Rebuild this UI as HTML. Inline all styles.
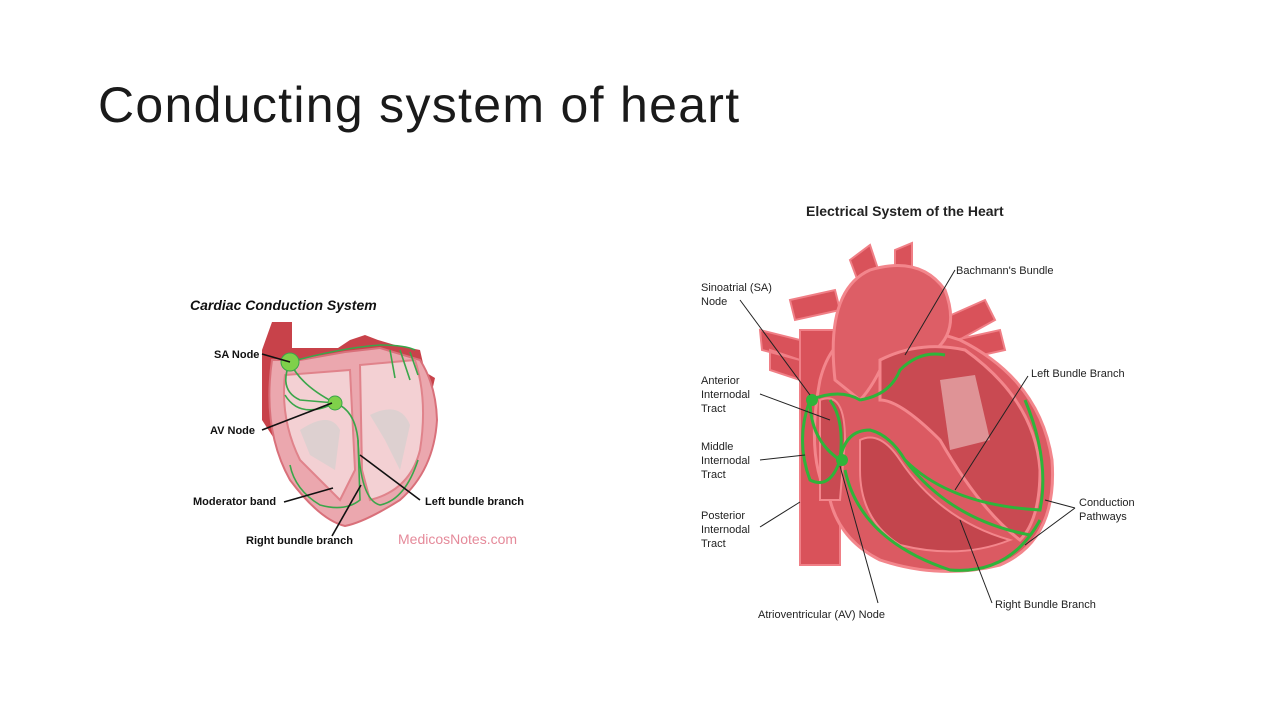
<!DOCTYPE html>
<html><head><meta charset="utf-8"><style>
html,body{margin:0;padding:0;background:#fff;}
body{width:1280px;height:720px;overflow:hidden;position:relative;font-family:"Liberation Sans",sans-serif;}
.t{position:absolute;left:98px;top:76px;font-size:50px;color:#1a1a1a;letter-spacing:1.3px;}
</style></head><body>
<div class="t">Conducting system of heart</div>
<svg width="1280" height="720" style="position:absolute;left:0;top:0" font-family="Liberation Sans, sans-serif">
<text x="190" y="310" font-size="14" font-weight="bold" font-style="italic" fill="#111">Cardiac Conduction System</text>
<path d="M262 350 L272 322 L292 322 L292 348 L338 348 L350 340 L365 335 L378 340 L395 345 L420 350 L425 372 L435 378 L430 400 L300 400 L275 440 L262 420 Z" fill="#c8424a"/>
<path d="M272 360 Q262 430 290 480 Q320 520 345 526 Q365 522 400 500 Q434 470 437 420 Q436 385 420 360 L380 348 L345 352 L300 360 Z" fill="#eba7ae" stroke="#d9707a" stroke-width="2"/>
<path d="M285 375 Q280 420 300 460 L340 500 L355 470 L350 370 Z" fill="#f3d0d3" stroke="#e0838b" stroke-width="2"/>
<path d="M360 365 L415 360 Q428 400 420 450 Q410 490 370 500 L362 470 Z" fill="#f3d0d3" stroke="#e0838b" stroke-width="2"/>
<path d="M300 430 Q330 410 340 430 L335 470 L310 455 Z M370 415 Q400 400 410 425 L400 470 L385 440 Z" fill="#d7d0d0" opacity="0.8"/>
<g fill="none" stroke="#3aa64a" stroke-width="1.6">
<path d="M290 362 Q340 348 380 345 Q405 345 415 350"/>
<path d="M390 350 L395 378 M400 350 L410 380 M410 352 L418 375"/>
<path d="M290 362 Q278 390 300 400 L335 403"/>
<path d="M290 362 Q300 385 335 403"/>
<path d="M335 403 Q355 410 358 440 L360 500 Q345 512 320 505 Q295 490 290 465"/>
<path d="M358 440 Q360 500 380 505 Q405 500 418 460"/>
<path d="M335 403 Q300 420 285 395"/>
</g>
<circle cx="290" cy="362" r="9" fill="#7fd04a" stroke="#3aa64a"/>
<circle cx="335" cy="403" r="7" fill="#7fd04a" stroke="#3aa64a"/>
<g stroke="#111" stroke-width="1.6">
<line x1="262" y1="354" x2="290" y2="362"/>
<line x1="262" y1="430" x2="332" y2="403"/>
<line x1="284" y1="502" x2="333" y2="488"/>
<line x1="332" y1="536" x2="361" y2="485"/>
<line x1="420" y1="500" x2="360" y2="455"/>
</g>
<g font-size="11" font-weight="bold" fill="#111">
<text x="214" y="358">SA Node</text>
<text x="210" y="434">AV Node</text>
<text x="193" y="505">Moderator band</text>
<text x="246" y="544">Right bundle branch</text>
<text x="425" y="505">Left bundle branch</text>
</g>
<text x="398" y="544" font-size="14" fill="#e58a9a">MedicosNotes.com</text>

<text x="806" y="216" font-size="14" font-weight="bold" fill="#222">Electrical System of the Heart</text>
<g fill="#d9525a" stroke="#f07f86" stroke-width="2">
<rect x="800" y="330" width="40" height="235"/>
<path d="M760 330 L800 340 L800 360 L762 350 Z M770 350 L800 360 L800 380 L770 370 Z"/>
<path d="M790 300 L835 290 L840 310 L795 320 Z"/>
<path d="M850 260 L870 245 L885 290 L865 300 Z M895 250 L912 243 L912 300 L895 300 Z"/>
<path d="M940 320 L985 300 L995 320 L950 345 Z M955 340 L1000 330 L1005 350 L960 360 Z"/>
</g>
<path d="M820 380 Q830 340 860 330 Q900 320 960 340 Q1040 380 1052 460 Q1058 540 1000 565 Q940 580 880 560 Q840 540 830 500 Q805 460 820 380 Z" fill="#db5a62" stroke="#f3868c" stroke-width="3"/>
<path d="M835 380 Q825 290 870 270 Q920 255 945 290 Q960 330 935 350 L880 370 Q870 390 860 400 Z" fill="#dd5e66" stroke="#f3868c" stroke-width="3"/>
<path d="M880 360 Q920 340 965 350 Q1035 400 1040 470 Q1040 520 1020 540 Q980 510 940 440 Q900 400 880 400 Z" fill="#c94a52" stroke="#f3868c" stroke-width="3"/>
<path d="M820 400 Q845 390 845 440 L840 500 L820 500 Z" fill="#c94a52" stroke="#f3868c" stroke-width="2"/>
<path d="M860 440 Q880 430 900 460 Q940 520 1010 540 Q960 560 900 545 Q860 520 860 470 Z" fill="#c3454d" stroke="#f3868c" stroke-width="2"/>
<path d="M940 380 L975 375 L990 440 L950 450 Z" fill="#eec4c4" opacity="0.6"/>
<g fill="none" stroke="#2fb43a" stroke-width="3">
<path d="M810 400 Q840 388 860 400 Q890 395 900 370 Q920 350 945 355"/>
<path d="M810 400 Q795 440 810 480 Q830 490 840 460 Q845 420 830 400"/>
<path d="M840 460 Q845 430 870 430 Q890 435 905 460 Q950 520 1030 535"/>
<path d="M905 460 Q950 505 1040 510 Q1050 460 1025 400"/>
<path d="M845 470 Q860 540 950 570 Q1010 575 1040 520"/>
<path d="M810 400 Q810 440 840 460"/>
</g>
<circle cx="842" cy="460" r="6" fill="#2fb43a"/>
<circle cx="812" cy="400" r="6" fill="#2fb43a"/>
<g stroke="#222" stroke-width="1">
<line x1="740" y1="300" x2="810" y2="395"/>
<line x1="760" y1="394" x2="830" y2="420"/>
<line x1="760" y1="460" x2="805" y2="455"/>
<line x1="760" y1="527" x2="800" y2="502"/>
<line x1="878" y1="603" x2="840" y2="466"/>
<line x1="955" y1="270" x2="905" y2="355"/>
<line x1="1028" y1="376" x2="955" y2="490"/>
<line x1="1075" y1="508" x2="1045" y2="500"/>
<line x1="1075" y1="508" x2="1025" y2="545"/>
<line x1="992" y1="603" x2="960" y2="520"/>
</g>
<g font-size="11" fill="#222">
<text x="701" y="291">Sinoatrial (SA)</text><text x="701" y="305">Node</text>
<text x="701" y="384">Anterior</text><text x="701" y="398">Internodal</text><text x="701" y="412">Tract</text>
<text x="701" y="450">Middle</text><text x="701" y="464">Internodal</text><text x="701" y="478">Tract</text>
<text x="701" y="519">Posterior</text><text x="701" y="533">Internodal</text><text x="701" y="547">Tract</text>
<text x="758" y="618">Atrioventricular (AV) Node</text>
<text x="956" y="274">Bachmann's Bundle</text>
<text x="1031" y="377">Left Bundle Branch</text>
<text x="1079" y="506">Conduction</text><text x="1079" y="520">Pathways</text>
<text x="995" y="608">Right Bundle Branch</text>
</g>
</svg>
</body></html>
